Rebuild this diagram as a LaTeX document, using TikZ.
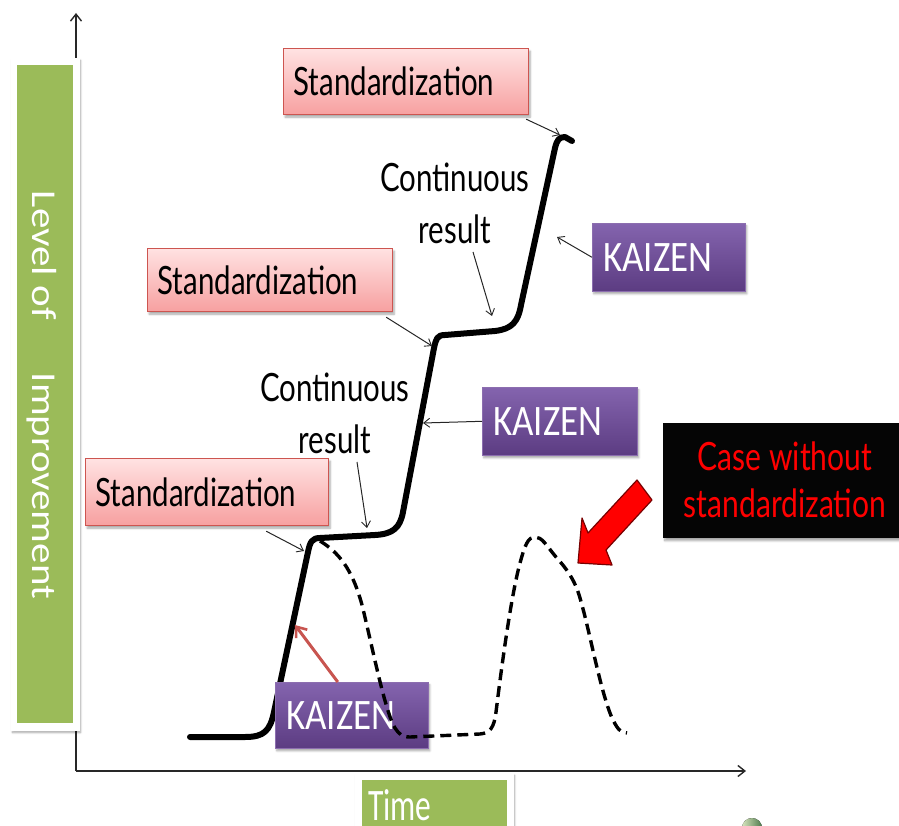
\documentclass[tikz,border=0pt]{standalone}
\usepackage{fontspec}
\usepackage{graphicx}
\setmainfont{Lato}
\newfontfamily\gill{Lato}
\newfontfamily\calfnt{Carlito}
\usetikzlibrary{arrows.meta,shadows.blur}

\definecolor{stdtop}{RGB}{255,226,226}
\definecolor{stdbot}{RGB}{247,160,160}
\definecolor{stdedge}{RGB}{205,85,80}
\definecolor{kztop}{RGB}{132,100,174}
\definecolor{kzbot}{RGB}{92,60,130}
\definecolor{kzedge}{RGB}{140,110,175}
\definecolor{olive}{RGB}{155,187,89}
\definecolor{axisgray}{RGB}{40,40,40}
\definecolor{kzarrow}{RGB}{200,85,80}
\definecolor{blockred}{RGB}{255,0,0}
\definecolor{blockedge}{RGB}{120,0,0}

% horizontal squeeze of a piece of text
\newcommand\sq[2]{\scalebox{#1}[1]{#2}}
\newcommand\stdtext{{\gill\fontsize{39}{44}\selectfont\sq{0.755}{Standardization}}}
\newcommand\kztext{{\calfnt\fontsize{43.5}{44}\selectfont\sq{0.85}{KAIZEN}}}

\tikzset{
  softshadow/.style={blur shadow={shadow xshift=1.5pt, shadow yshift=-2.5pt,
      shadow blur steps=6, shadow opacity=35}},
  stdbox/.style={draw=stdedge, line width=1.2pt, top color=stdtop,
      bottom color=stdbot, anchor=north west, inner xsep=10pt, inner ysep=0pt,
      align=left, softshadow},
  kzbox/.style={draw=kzedge, line width=0.6pt, top color=kztop,
      bottom color=kzbot, anchor=north west, inner xsep=11pt, inner ysep=0pt,
      align=left, text=white, softshadow},
  frame/.style={fill=white, draw=white, softshadow},
  axis/.style={draw=axisgray, line width=1.6pt,
      -{Straight Barb[length=7pt,width=11pt,line width=1.4pt]}},
  thin/.style={draw=black!85, line width=1pt,
      -{Straight Barb[length=6pt,width=9pt,line width=0.9pt]}},
  stair/.style={line width=6pt, line join=round, line cap=round},
  nostd/.style={line width=3.4pt, dash pattern=on 11pt off 6pt},
  note/.style={align=center, font=\gill\fontsize{39}{52}\selectfont},
  alert/.style={align=center, text=red, inner sep=0pt,
      font=\gill\fontsize{39}{47}\selectfont},
}

\begin{document}
\begin{tikzpicture}[x=1pt,y=-1pt]
\useasboundingbox (0,0) rectangle (899,826);

% axes
\coordinate (O) at (76,771);
\coordinate (ytop) at (76,13);
\coordinate (xend) at (746,771);
\draw[axis] (O) -- (ytop);
\draw[axis] (O) -- (xend);

% axis labels on green panels
\path[frame] (11,58) rectangle (79,730);
\fill[olive] (17,65) rectangle (73,723);
\node[rotate=-90, anchor=base, text=white, inner sep=0pt] (level) at (32,395)
  {\calfnt\fontsize{41}{41}\selectfont\scalebox{1}[0.85]{Level of\hspace{53pt}Improvement}};

\path[frame] (355,773) rectangle (513,840);
\fill[olive] (362,780) rectangle (507,840);
\node[anchor=base west, text=white, inner sep=0pt, text depth=0pt] (time) at (368,820)
  {\calfnt\fontsize{45}{45}\selectfont\sq{0.7}{Time}};

\fill[left color=white!60!olive, right color=black!55!green!40!gray] (752,828) circle (10);

% improvement staircase
\draw[stair] (190,737) -- (245,737)
  .. controls (264,737) and (270,731) .. (274,712)
  -- (308,552) .. controls (310,542) and (312,538) .. (320,538)
  -- (375,535) .. controls (393,534) and (400,528) .. (403,512)
  -- (434,348) .. controls (436,339) and (437,335) .. (445,335)
  -- (495,331) .. controls (512,329) and (518,322) .. (521,305)
  -- (555,148) .. controls (557,140) and (559,137) .. (565,137)
  -- (572,141);

% boxes
\node[stdbox, text width=225pt, minimum height=66pt] (s1) at (283,48) {\stdtext};
\node[stdbox, text width=225pt, minimum height=63pt] (s2) at (147,248) {\stdtext};
\node[stdbox, text width=223pt, minimum height=67pt] (s3) at (85,458) {\stdtext};

\node[kzbox, text width=131pt, minimum height=68pt] (k1) at (592,223) {\kztext};
\node[kzbox, text width=133pt, minimum height=68pt] (k2) at (482,387) {\kztext};
\node[kzbox, text width=131pt, minimum height=66pt] (k3) at (275,682) {\kztext};

\node[fill=black!98, anchor=north west, minimum width=244pt, minimum height=115pt,
      inner sep=0pt, softshadow] (case) at (663,423) {};
\node[alert] (casetxt) at (785,480)
  {\sq{0.77}{Case without}\\\sq{0.77}{standardization}};

% course without standardization
\draw[nostd] (320,541)
  .. controls (338,552) and (352,568) .. (362,605)
  .. controls (372,645) and (385,712) .. (395,728)
  .. controls (399,734) and (402,737) .. (410,737)
  -- (480,734)
  .. controls (490,733) and (494,728) .. (496,712)
  .. controls (500,680) and (510,600) .. (520,563)
  .. controls (525,545) and (528,537) .. (535,537)
  .. controls (542,537) and (546,545) .. (556,557)
  .. controls (566,568) and (575,580) .. (580,598)
  .. controls (590,632) and (600,690) .. (612,718)
  .. controls (617,728) and (620,733) .. (627,733);

% block arrow pointing at the second peak
\filldraw[fill=blockred, draw=blockedge, line width=1.2pt, line join=round]
  (637,480) -- (652,500) -- (606,550) -- (612,565) -- (578,563)
  -- (582,518) -- (588,533) -- cycle;

% continuous result labels
\node[note] (c1) at (455,203) {\sq{0.755}{Continuous}\\\sq{0.755}{result}};
\node[note] (c2) at (335,413) {\sq{0.755}{Continuous}\\\sq{0.755}{result}};

% pointers
\coordinate (p1) at (560,135);
\coordinate (p2) at (432,346);
\coordinate (p3) at (304,551);
\coordinate (q1) at (492,316);
\coordinate (q2) at (367,528);
\coordinate (r1) at (557,237);
\coordinate (r2) at (423,423);
\coordinate (r3) at (295,625);
\draw[thin] ([shift={(-3pt,-4pt)}]s1.south east) -- (p1);
\draw[thin] ([shift={(-7pt,-5pt)}]s2.south east) -- (p2);
\draw[thin] ([shift={(-63pt,-5pt)}]s3.south east) -- (p3);
\draw[thin] ([shift={(18pt,-5pt)}]c1.south) -- (q1);
\draw[thin] ([shift={(22pt,-5pt)}]c2.south) -- (q2);
\draw[thin] (k1.west) -- (r1);
\draw[thin] (k2.west) -- (r2);
\draw[draw=kzarrow, line width=3pt,
      -{Straight Barb[length=9pt,width=14pt,line width=2.6pt]}]
  ([xshift=-14pt]k3.north) -- (r3);
\end{tikzpicture}
\end{document}
